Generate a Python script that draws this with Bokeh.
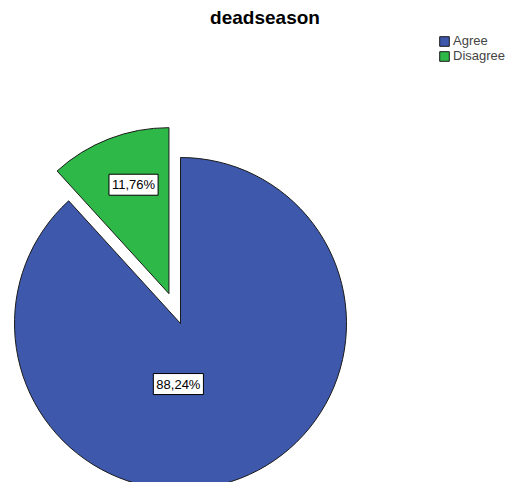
import math
from bokeh.plotting import figure
from bokeh.models import Range1d, Label, Legend, LegendItem, ColumnDataSource
from bokeh.embed import file_html
from bokeh.resources import INLINE

# ---- data ----
title_text = "deadseason"
categories = ["Agree", "Disagree"]
counts = [15, 2]
colors = ["#3E58AC", "#2EB848"]
exploded = [False, True]

# ---- layout constants (pixels) ----
W, H = 506, 482
CX, CY = 180, 159          # pie centre in data (=pixel) units
R = 166
EXPLODE = 32
# label placement: (fraction of radius, angle in degrees) per slice
label_place = [(0.365, 268.0), (0.69, 108.0)]
FONT = "Liberation Sans"

p = figure(width=W, height=H, output_backend="svg", toolbar_location=None,
           x_range=Range1d(0, W), y_range=Range1d(0, H),
           x_axis_type=None, y_axis_type=None, min_border=0)
p.grid.visible = False
p.outline_line_color = None
p.background_fill_color = "white"
p.border_fill_color = "white"

total = sum(counts)
cur = math.pi / 2  # start at 12 o'clock, go clockwise
renderers = []
for i, (cat, c, col) in enumerate(zip(categories, counts, colors)):
    frac = c / total
    start = cur
    end = cur - frac * 2 * math.pi
    cur = end
    mid = (start + end) / 2
    ox = EXPLODE * math.cos(mid) if exploded[i] else 0.0
    oy = EXPLODE * math.sin(mid) if exploded[i] else 0.0
    src = ColumnDataSource(dict(x=[CX + ox], y=[CY + oy], s=[start], e=[end]))
    r = p.wedge(x="x", y="y", radius=R, start_angle="s", end_angle="e",
                direction="clock", source=src, fill_color=col,
                line_color="#1a1a1a", line_width=1)
    renderers.append(r)
    fr, ang = label_place[i]
    a = math.radians(ang)
    lx = CX + ox + fr * R * math.cos(a)
    ly = CY + oy + fr * R * math.sin(a)
    txt = f"{frac * 100:.2f}%".replace(".", ",")
    p.add_layout(Label(x=lx, y=ly, text=txt, text_font=FONT,
                       text_font_size="13px", text_align="center",
                       text_baseline="middle", text_color="black",
                       background_fill_color="white",
                       border_line_color="black", border_line_width=1,
                       padding=3))

p.add_layout(Label(x=264.5, y=465, text=title_text, text_font=FONT,
                   text_font_size="19px", text_font_style="bold",
                   text_align="center", text_baseline="middle",
                   text_color="black"))

legend = Legend(items=[LegendItem(label=c, renderers=[r])
                       for c, r in zip(categories, renderers)],
                location=(438, 419), glyph_width=12, glyph_height=12,
                label_standoff=3, padding=0, spacing=0, margin=0,
                label_text_font=FONT, label_text_font_size="13px",
                label_height=12, border_line_color=None,
                background_fill_alpha=0)
p.add_layout(legend)

open("out.html", "w").write(file_html(p, INLINE))
